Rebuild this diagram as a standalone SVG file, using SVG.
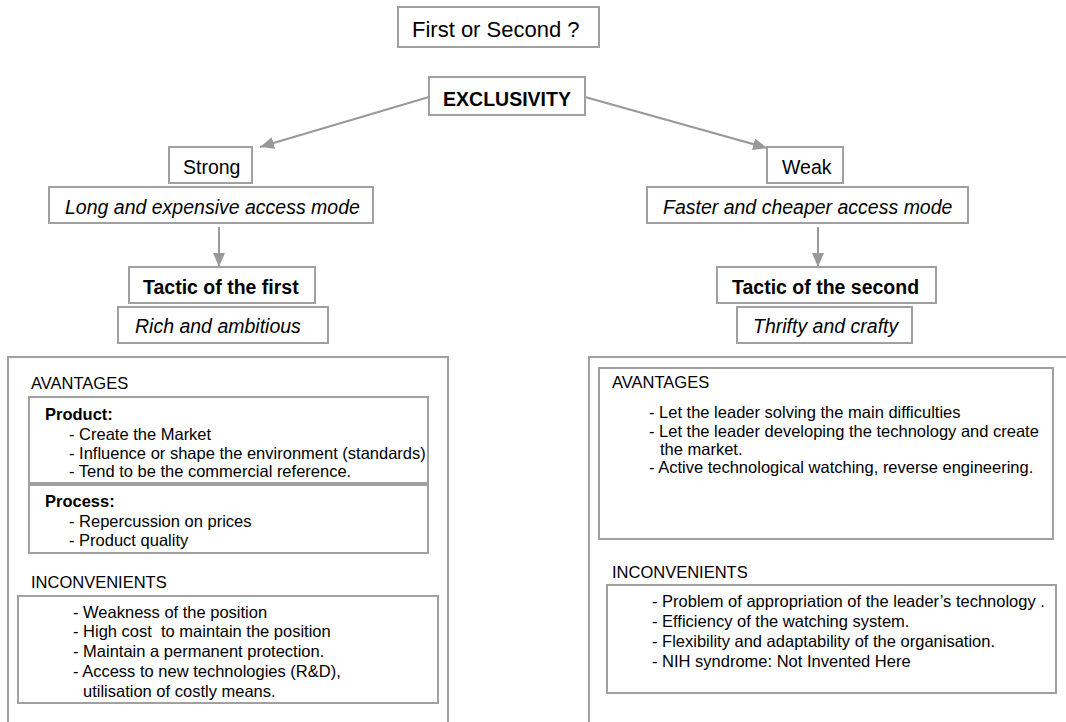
<svg xmlns="http://www.w3.org/2000/svg" width="1066" height="722" viewBox="0 0 1066 722">
<defs>
<marker id="ah" markerUnits="userSpaceOnUse" markerWidth="14" markerHeight="12" refX="14" refY="6" orient="auto">
<path d="M0,0 L14,6 L0,12 Z" fill="#999"/>
</marker>
<style>
.b{fill:#fff;stroke:#a0a0a0;stroke-width:2}
.t{font-family:"Liberation Sans",Arial,sans-serif;fill:#000}
.big{font-size:22px}
.m{font-size:19.5px}
.bd{font-weight:bold}
.it{font-style:italic}
.s{font-size:16.5px}
.c{stroke:#999;stroke-width:2;fill:none;marker-end:url(#ah)}
</style>
</defs>
<rect width="1066" height="722" fill="#fff"/>
<g id="connectors">
<line class="c" x1="429" y1="97" x2="260" y2="147"/>
<line class="c" x1="585" y1="97" x2="767" y2="148"/>
<line class="c" x1="219" y1="227" x2="219" y2="267"/>
<line class="c" x1="818" y1="227" x2="818" y2="267"/>
</g>
<g id="title">
<rect class="b" x="398" y="7" width="201" height="40"/>
<text class="t big" x="412" y="37">First or Second ?</text>
</g>
<g id="exclusivity">
<rect class="b" x="429" y="77" width="156" height="38"/>
<text class="t m bd" x="507" y="106" text-anchor="middle">EXCLUSIVITY</text>
</g>
<g id="strong">
<rect class="b" x="169" y="147" width="83" height="36"/>
<text class="t m" x="183" y="174">Strong</text>
</g>
<g id="long">
<rect class="b" x="49" y="187" width="324" height="36"/>
<text class="t m it" x="65" y="214">Long and expensive access mode</text>
</g>
<g id="tactic-first">
<rect class="b" x="129" y="267" width="186" height="36"/>
<text class="t m bd" x="143" y="294">Tactic of the first</text>
</g>
<g id="rich">
<rect class="b" x="118" y="307" width="210" height="36"/>
<text class="t m it" x="135" y="333">Rich and ambitious</text>
</g>
<g id="weak">
<rect class="b" x="767" y="147" width="76" height="36"/>
<text class="t m" x="782" y="174">Weak</text>
</g>
<g id="faster">
<rect class="b" x="647" y="187" width="321" height="36"/>
<text class="t m it" x="663" y="214">Faster and cheaper access mode</text>
</g>
<g id="tactic-second">
<rect class="b" x="717" y="267" width="219" height="36"/>
<text class="t m bd" x="732" y="294">Tactic of the second</text>
</g>
<g id="thrifty">
<rect class="b" x="737" y="307" width="175" height="36"/>
<text class="t m it" x="753" y="333">Thrifty and crafty</text>
</g>
<g id="left-panel">
<rect class="b" x="8" y="357" width="440" height="400"/>
<text class="t s" x="31" y="389">AVANTAGES</text>
<rect class="b" x="29" y="397" width="399" height="86"/>
<text class="t s bd" x="45" y="420">Product:</text>
<text class="t s" x="69" y="440">- Create the Market</text>
<text class="t s" x="69" y="459">- Influence or shape the environment (standards)</text>
<text class="t s" x="69" y="477">- Tend to be the commercial reference.</text>
<rect class="b" x="29" y="485" width="399" height="68"/>
<text class="t s bd" x="45" y="507">Process:</text>
<text class="t s" x="69" y="527">- Repercussion on prices</text>
<text class="t s" x="69" y="546">- Product quality</text>
<text class="t s" x="31" y="588">INCONVENIENTS</text>
<rect class="b" x="18" y="596" width="420" height="107"/>
<text class="t s" x="73" y="618">- Weakness of the position</text>
<text class="t s" x="73" y="637" style="white-space:pre">- High cost  to maintain the position</text>
<text class="t s" x="73" y="657">- Maintain a permanent protection.</text>
<text class="t s" x="73" y="677">- Access to new technologies (R&amp;D),</text>
<text class="t s" x="83" y="697">utilisation of costly means.</text>
</g>
<g id="right-panel">
<rect class="b" x="589" y="357" width="500" height="400"/>
<rect class="b" x="599" y="368" width="454" height="171"/>
<text class="t s" x="612" y="388">AVANTAGES</text>
<text class="t s" x="649" y="418">- Let the leader solving the main difficulties</text>
<text class="t s" x="649" y="437">- Let the leader developing the technology and create</text>
<text class="t s" x="660" y="455">the market.</text>
<text class="t s" x="649" y="473">- Active technological watching, reverse engineering.</text>
<text class="t s" x="612" y="578">INCONVENIENTS</text>
<rect class="b" x="607" y="585" width="449" height="108"/>
<text class="t s" x="652" y="607">- Problem of appropriation of the leader’s technology .</text>
<text class="t s" x="652" y="627">- Efficiency of the watching system.</text>
<text class="t s" x="652" y="647">- Flexibility and adaptability of the organisation.</text>
<text class="t s" x="652" y="667">- NIH syndrome: Not Invented Here</text>
</g>
</svg>
